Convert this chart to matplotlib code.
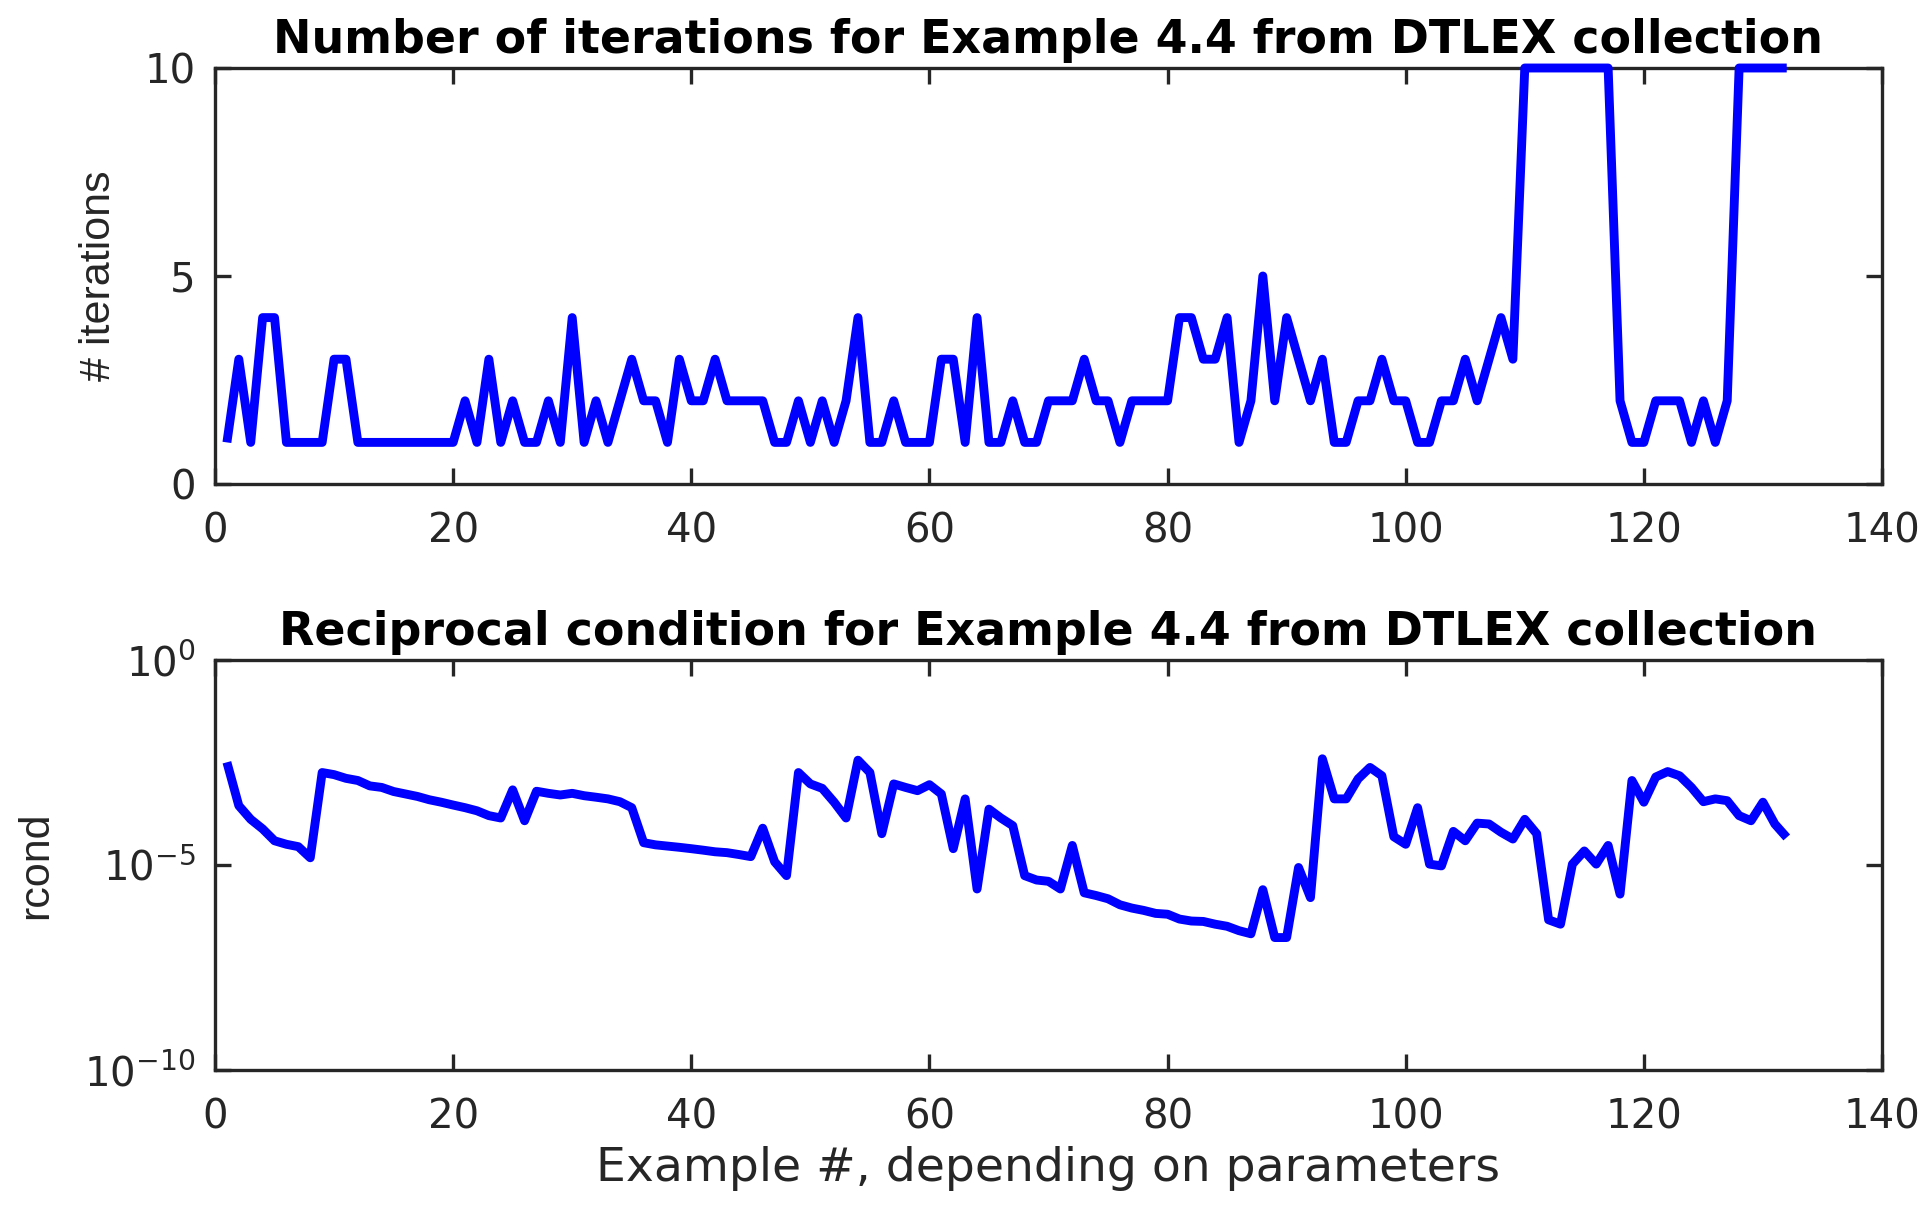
import matplotlib
matplotlib.use("Agg")
import matplotlib.pyplot as plt
import numpy as np

plt.rcParams['font.family'] = ['DejaVu Sans']
plt.rcParams['mathtext.fontset'] = 'custom'
plt.rcParams['mathtext.rm'] = 'DejaVu Sans'
plt.rcParams['mathtext.it'] = 'DejaVu Sans'
plt.rcParams['mathtext.default'] = 'regular'

example = list(range(1, 133))

iterations = [
    1, 3, 1, 4, 4, 1, 1, 1, 1, 3,
    3, 1, 1, 1, 1, 1, 1, 1, 1, 1,
    2, 1, 3, 1, 2, 1, 1, 2, 1, 4,
    1, 2, 1, 2, 3, 2, 2, 1, 3, 2,
    2, 3, 2, 2, 2, 2, 1, 1, 2, 1,
    2, 1, 2, 4, 1, 1, 2, 1, 1, 1,
    3, 3, 1, 4, 1, 1, 2, 1, 1, 2,
    2, 2, 3, 2, 2, 1, 2, 2, 2, 2,
    4, 4, 3, 3, 4, 1, 2, 5, 2, 4,
    3, 2, 3, 1, 1, 2, 2, 3, 2, 2,
    1, 1, 2, 2, 3, 2, 3, 4, 3, 10,
    10, 10, 10, 10, 10, 10, 10, 2, 1, 1,
    2, 2, 2, 1, 2, 1, 2, 10, 10, 10,
    10, 10,
]

rcond = [
    3.2e-3, 2.8e-4, 1.3e-4, 7.6e-5, 3.9e-5, 3.2e-5, 2.8e-5, 1.5e-5, 1.8e-3, 1.6e-3,
    1.3e-3, 1.15e-3, 8.5e-4, 7.8e-4, 6.2e-4, 5.4e-4, 4.7e-4, 3.9e-4, 3.4e-4, 2.9e-4,
    2.5e-4, 2.1e-4, 1.6e-4, 1.4e-4, 6.8e-4, 1.2e-4, 6.3e-4, 5.6e-4, 5.1e-4, 5.6e-4,
    4.9e-4, 4.5e-4, 4.1e-4, 3.5e-4, 2.5e-4, 3.5e-5, 3.1e-5, 2.9e-5, 2.7e-5, 2.5e-5,
    2.3e-5, 2.1e-5, 2.0e-5, 1.8e-5, 1.6e-5, 7.9e-5, 1.2e-5, 5.5e-6, 1.8e-3, 9.5e-4,
    7.4e-4, 3.4e-4, 1.4e-4, 3.6e-3, 1.8e-3, 5.8e-5, 9.5e-4, 7.8e-4, 6.5e-4, 9.1e-4,
    5.4e-4, 2.5e-5, 4.1e-4, 2.6e-6, 2.3e-4, 1.4e-4, 9.1e-5, 5.5e-6, 4.3e-6, 4.0e-6,
    2.6e-6, 3.0e-5, 2.1e-6, 1.8e-6, 1.5e-6, 1.07e-6, 8.9e-7, 7.8e-7, 6.6e-7, 6.3e-7,
    4.8e-7, 4.3e-7, 4.2e-7, 3.6e-7, 3.2e-7, 2.5e-7, 2.1e-7, 2.5e-6, 1.7e-7, 1.7e-7,
    8.7e-6, 1.6e-6, 3.9e-3, 4.1e-4, 4.1e-4, 1.26e-3, 2.4e-3, 1.5e-3, 4.9e-5, 3.2e-5,
    2.5e-4, 1.05e-5, 9.5e-6, 6.6e-5, 3.9e-5, 1.05e-4, 1.0e-4, 6.3e-5, 4.3e-5, 1.3e-4,
    5.8e-5, 4.6e-7, 3.6e-7, 1.05e-5, 2.2e-5, 1.05e-5, 3.0e-5, 1.95e-6, 1.15e-3, 3.4e-4,
    1.4e-3, 1.9e-3, 1.5e-3, 7.8e-4, 3.5e-4, 4.1e-4, 3.7e-4, 1.6e-4, 1.2e-4, 3.4e-4,
    1.0e-4, 4.7e-5,
]

x_ticks = [0, 20, 40, 60, 80, 100, 120, 140]
iter_ticks = [0, 5, 10]
rcond_ticks = [1e-10, 1e-5, 1e0]
rcond_ticklabels = ['$10^{-10}$', '$10^{-5}$', '$10^{0}$']

title_top = 'Number of iterations for Example 4.4 from DTLEX collection'
title_bot = 'Reciprocal condition for Example 4.4 from DTLEX collection'
ylabel_top = '# iterations'
ylabel_bot = 'rcond'
xlabel_bot = 'Example #, depending on parameters'

W, H = 1933, 1207
fig = plt.figure(figsize=(W / 100, H / 100), dpi=100)
ax1 = fig.add_axes([215 / W, 1 - 484 / H, 1667 / W, 416 / H])
ax2 = fig.add_axes([215 / W, 1 - 1070 / H, 1667 / W, 410 / H])

axcol = '#262626'
blue = '#0000ff'
tick_fs = 29
title_fs = 33

for ax in (ax1, ax2):
    for s in ax.spines.values():
        s.set_linewidth(2.4)
        s.set_color(axcol)
    ax.tick_params(direction='in', length=11.5, width=2.4, colors=axcol,
                   labelsize=tick_fs, top=True, right=True,
                   labelcolor='#262626')
    ax.tick_params(axis='x', pad=20)
    ax.tick_params(axis='y', pad=14)
    ax.tick_params(which='minor', length=0)
    ax.set_xlim(0, 140)
    ax.set_xticks(x_ticks)

ax1.plot(example, iterations, color=blue, lw=6.4, clip_on=False, zorder=5,
         solid_joinstyle='round', solid_capstyle='butt')
ax1.set_ylim(0, 10)
ax1.set_yticks(iter_ticks)
ax1.set_title(title_top, fontsize=title_fs, fontweight='bold', pad=11)
ax1.set_ylabel(ylabel_top, fontsize=31, color='#262626', labelpad=18,
               family=['Liberation Sans', 'DejaVu Sans'])

ax2.plot(example, rcond, color=blue, lw=6.4, clip_on=False, zorder=5,
         solid_joinstyle='round', solid_capstyle='butt')
ax2.set_yscale('log')
ax2.set_ylim(1e-10, 1e0)
ax2.set_yticks(rcond_ticks)
ax2.set_yticklabels(rcond_ticklabels)
ax2.yaxis.set_minor_locator(matplotlib.ticker.NullLocator())
ax2.set_title(title_bot, fontsize=title_fs, fontweight='bold', pad=11)
ax2.set_ylabel(ylabel_bot, fontsize=31, color='#262626', labelpad=20,
               family=['Liberation Sans', 'DejaVu Sans'])
ax2.set_xlabel(xlabel_bot, fontsize=34, color='#262626', labelpad=6)

fig.savefig('out.png', dpi=100, facecolor='white')
